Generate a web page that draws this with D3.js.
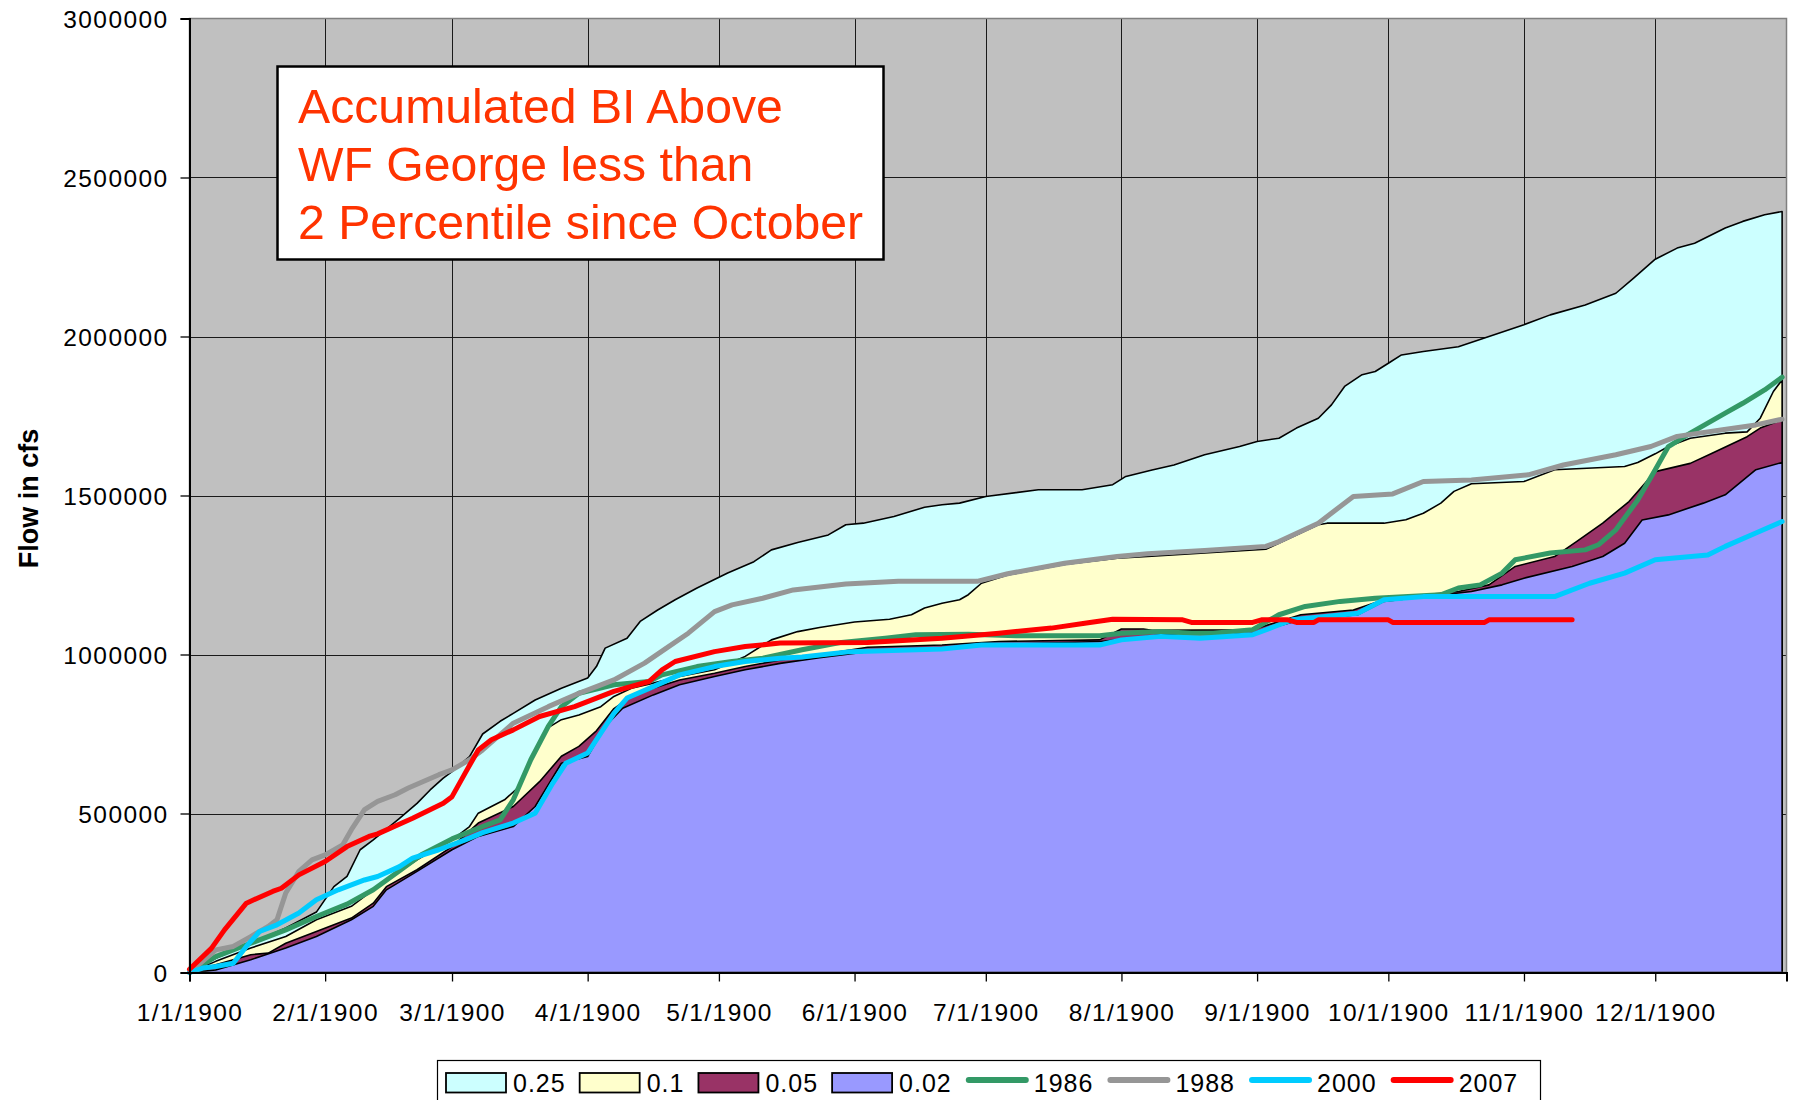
<!DOCTYPE html>
<html>
<head>
<meta charset="utf-8">
<script src="https://d3js.org/d3.v7.min.js"></script>
<style>
  body { margin: 0; background: #fff; }
  text { font-family: "Liberation Sans", Arial, sans-serif; }
</style>
</head>
<body>
<div class="chart"></div>
<script>
// values: [day of year, flow in thousand cfs]
const p25 = [[0,0],[6,45],[14,92],[22,140],[29,190],[33,270],[36,302],[39,386],[42,417],[48,485],[52,532],[55,574],[58,611],[60,632],[64,679],[67,750],[71,790],[74,815],[79,857],[85,894],[91,926],[93,962],[95,1020],[100,1051],[103,1104],[107,1140],[111,1172],[116,1209],[123,1256],[129,1292],[133,1329],[139,1352],[146,1376],[150,1408],[154,1413],[161,1434],[168,1463],[172,1471],[176,1476],[182,1497],[194,1518],[204,1518],[211,1534],[214,1560],[220,1580],[225,1596],[232,1628],[240,1654],[244,1670],[249,1680],[253,1712],[258,1743],[261,1785],[264,1843],[268,1880],[271,1890],[274,1916],[277,1942],[282,1953],[290,1968],[297,2000],[305,2037],[311,2068],[319,2099],[326,2136],[330,2183],[335,2243],[340,2278],[344,2293],[351,2341],[355,2362],[360,2383],[364,2393]];
const p10 = [[0,0],[6,35],[14,77],[22,113],[29,166],[37,208],[45,291],[52,354],[60,417],[64,459],[66,501],[72,543],[75,580],[78,669],[82,770],[85,795],[89,810],[94,836],[97,868],[101,894],[106,910],[112,931],[120,952],[127,994],[133,1046],[139,1072],[144,1085],[152,1102],[160,1111],[165,1125],[168,1146],[172,1161],[176,1172],[178,1188],[181,1224],[187,1250],[200,1283],[212,1303],[219,1308],[246,1331],[258,1408],[260,1413],[273,1413],[278,1424],[282,1444],[286,1476],[289,1513],[293,1537],[305,1544],[312,1581],[328,1591],[331,1604],[335,1631],[338,1654],[343,1680],[351,1696],[356,1700],[359,1743],[362,1827],[364,1864]];
const p05 = [[0,0],[6,24],[14,56],[18,61],[22,92],[29,129],[37,171],[42,218],[45,270],[52,323],[60,396],[66,470],[74,522],[80,600],[85,680],[89,711],[93,760],[97,830],[101,868],[106,894],[112,920],[120,941],[127,962],[135,983],[144,999],[155,1023],[172,1030],[185,1041],[208,1046],[213,1080],[218,1080],[220,1076],[243,1078],[254,1125],[266,1140],[274,1177],[290,1198],[297,1219],[303,1277],[312,1308],[317,1355],[323,1413],[329,1481],[335,1575],[343,1601],[348,1633],[356,1685],[359,1712],[364,1738]];
const p02 = [[0,0],[6,8],[14,40],[22,77],[29,113],[37,166],[42,208],[45,260],[52,318],[60,386],[66,428],[74,459],[79,522],[85,658],[91,679],[95,774],[99,831],[106,873],[112,905],[120,931],[127,952],[135,972],[144,990],[155,1009],[172,1017],[181,1030],[208,1041],[216,1051],[222,1062],[243,1067],[254,1109],[267,1125],[273,1167],[293,1198],[300,1219],[305,1240],[316,1277],[323,1308],[328,1350],[332,1423],[338,1439],[346,1476],[351,1502],[358,1581],[364,1604]];
const y1986 = [[0,0],[6,50],[14,92],[22,134],[29,176],[36,215],[42,260],[48,320],[53,370],[60,420],[67,459],[71,480],[74,543],[78,669],[82,774],[85,836],[89,878],[97,905],[105,915],[108,936],[116,962],[124,978],[131,988],[140,1015],[149,1038],[159,1051],[166,1062],[178,1064],[189,1059],[208,1059],[213,1067],[222,1072],[229,1067],[234,1067],[243,1078],[249,1125],[255,1151],[263,1167],[271,1177],[286,1188],[290,1209],[295,1219],[300,1256],[303,1298],[311,1319],[319,1329],[322,1345],[326,1392],[331,1486],[335,1581],[338,1654],[343,1696],[351,1759],[355,1790],[360,1832],[364,1872]];
const y1988 = [[0,0],[6,71],[10,82],[14,113],[18,145],[20,166],[22,250],[25,318],[28,354],[31,370],[35,401],[37,449],[40,512],[43,538],[47,559],[50,580],[57,622],[60,637],[64,669],[67,700],[74,784],[82,836],[89,878],[97,920],[104,973],[109,1020],[114,1067],[120,1135],[124,1156],[131,1177],[138,1203],[150,1222],[162,1230],[180,1230],[187,1254],[200,1287],[212,1308],[219,1317],[232,1327],[246,1340],[249,1355],[258,1413],[266,1497],[275,1505],[282,1544],[293,1549],[306,1565],[314,1596],[326,1628],[334,1654],[340,1686],[350,1706],[358,1722],[364,1740]];
const y2000 = [[0,0],[3,14],[6,19],[10,29],[13,82],[16,129],[20,150],[25,187],[29,229],[34,260],[40,291],[43,302],[48,333],[51,360],[57,386],[63,417],[67,440],[74,470],[79,501],[83,595],[86,658],[91,690],[94,753],[97,815],[100,863],[106,899],[112,936],[120,962],[127,978],[135,988],[140,992],[151,1009],[172,1017],[181,1030],[208,1030],[213,1046],[222,1057],[231,1051],[243,1062],[248,1088],[252,1109],[259,1119],[267,1130],[273,1172],[282,1182],[312,1182],[320,1224],[328,1256],[335,1298],[347,1313],[351,1340],[358,1382],[364,1418]];
const y2007 = [[0,10],[5,76],[8,134],[13,218],[19,255],[21,265],[25,307],[31,349],[36,396],[41,428],[43,436],[51,485],[58,532],[60,553],[63,627],[66,700],[69,732],[74,763],[80,805],[88,836],[97,884],[105,915],[108,952],[111,978],[120,1009],[127,1025],[135,1036],[155,1038],[172,1051],[185,1067],[197,1083],[205,1099],[211,1111],[227,1109],[229,1101],[243,1101],[245,1109],[251,1109],[253,1101],[257,1101],[258,1109],[274,1109],[275,1101],[296,1101],[297,1109],[316,1109]];

const monthDays = [0, 31, 60, 91, 121, 152, 182, 213, 244, 274, 305, 335];
const monthLabels = ["1/1/1900", "2/1/1900", "3/1/1900", "4/1/1900", "5/1/1900", "6/1/1900",
  "7/1/1900", "8/1/1900", "9/1/1900", "10/1/1900", "11/1/1900", "12/1/1900"];
const flowTicks = [0, 500000, 1000000, 1500000, 2000000, 2500000, 3000000];

const areaSeries = [
  { name: "0.25", data: p25, color: "#ccffff" },
  { name: "0.1", data: p10, color: "#ffffcc" },
  { name: "0.05", data: p05, color: "#993366" },
  { name: "0.02", data: p02, color: "#9999ff" },
];
const lineSeries = [
  { name: "1986", data: y1986, color: "#339966" },
  { name: "1988", data: y1988, color: "#969696" },
  { name: "2000", data: y2000, color: "#00ccff" },
  { name: "2007", data: y2007, color: "#ff0000" },
];

const WIDTH = 1797;
const HEIGHT = 1100;
const LEFT = 189.5, RIGHT = 1786.5, TOP = 18.5, BOTTOM = 972.5;

const svg = d3.create("svg").attr("width", WIDTH).attr("height", HEIGHT);
// attach early so text can be measured for the legend
document.querySelector(".chart").append(svg.node());
svg.append("rect").attr("width", WIDTH).attr("height", HEIGHT).style("fill", "#fff");

const x = d3.scaleLinear().domain([0, 365]).range([LEFT, RIGHT]);
const y = d3.scaleLinear().domain([0, 3000000]).range([BOTTOM, TOP]);

// plot background
svg.append("rect")
  .attr("x", LEFT).attr("y", TOP)
  .attr("width", RIGHT - LEFT).attr("height", BOTTOM - TOP)
  .style("fill", "#c0c0c0");

// grid
const grid = svg.append("g").style("stroke", "#1a1a1a").style("stroke-width", 1);
grid.selectAll(".h").data(flowTicks.slice(1, -1)).join("line")
  .attr("x1", LEFT).attr("x2", RIGHT)
  .attr("y1", d => Math.round(y(d)) + 0.5).attr("y2", d => Math.round(y(d)) + 0.5);
grid.selectAll(".v").data(monthDays.slice(1)).join("line")
  .attr("y1", TOP).attr("y2", BOTTOM)
  .attr("x1", d => Math.round(x(d)) + 0.5).attr("x2", d => Math.round(x(d)) + 0.5);

// percentile areas
const area = d3.area()
  .x(d => x(d[0]))
  .y0(y(0))
  .y1(d => y(d[1] * 1000));

svg.append("g")
  .selectAll("path")
  .data(areaSeries)
  .join("path")
  .attr("d", s => area(s.data) + "Z")
  .style("fill", s => s.color)
  .style("stroke", "#000")
  .style("stroke-width", 1.6)
  .style("stroke-linejoin", "round");

// year lines
const line = d3.line()
  .x(d => x(d[0]))
  .y(d => y(d[1] * 1000));

svg.append("g")
  .selectAll("path")
  .data(lineSeries)
  .join("path")
  .attr("d", s => line(s.data))
  .style("fill", "none")
  .style("stroke", s => s.color)
  .style("stroke-width", 5)
  .style("stroke-linejoin", "round")
  .style("stroke-linecap", "round");

// plot frame
svg.append("rect")
  .attr("x", LEFT).attr("y", TOP)
  .attr("width", RIGHT - LEFT).attr("height", BOTTOM - TOP)
  .style("fill", "none").style("stroke", "#808080").style("stroke-width", 1.5);

// axes
const yAxis = d3.axisLeft(y).tickValues(flowTicks).tickFormat(d3.format("d"))
  .tickSize(9).tickPadding(12);
const yg = svg.append("g").attr("transform", `translate(${LEFT},0)`).call(yAxis);

const xAxis = d3.axisBottom(x).tickValues(monthDays)
  .tickFormat((d, i) => monthLabels[i]).tickSize(9).tickPadding(22);
const xg = svg.append("g").attr("transform", `translate(0,${BOTTOM})`).call(xAxis);

[yg, xg].forEach(g => {
  g.select(".domain").style("stroke", "#000").style("stroke-width", 2);
  g.selectAll(".tick line").style("stroke", "#000").style("stroke-width", 1.3);
  g.selectAll(".tick text")
    .style("font-family", '"Liberation Sans", Arial, sans-serif')
    .style("font-size", "24.5px")
    .style("letter-spacing", "1.4px")
    .style("fill", "#000");
});
yg.selectAll(".tick text").attr("dy", "0.36em");

svg.append("text")
  .attr("transform", `translate(38,${(TOP + BOTTOM) / 2 + 3}) rotate(-90)`)
  .attr("text-anchor", "middle")
  .style("font-size", "27px")
  .style("font-weight", "bold")
  .text("Flow in cfs");

// annotation box
const note = svg.append("g");
note.append("rect")
  .attr("x", 277.5).attr("y", 66.5).attr("width", 606).attr("height", 193)
  .style("fill", "#fff").style("stroke", "#000").style("stroke-width", 2.5);
["Accumulated BI Above", "WF George less than", "2 Percentile since October"]
  .forEach((t, i) => {
    note.append("text")
      .attr("x", 298).attr("y", 123 + i * 58)
      .style("font-size", "48.2px")
      .style("fill", "#ff3300")
      .text(t);
  });

// legend
const legend = svg.append("g");
legend.append("rect")
  .attr("x", 437.5).attr("y", 1060.5).attr("width", 1103).attr("height", 60)
  .style("fill", "#fff").style("stroke", "#000").style("stroke-width", 1.2);

let lx = 446;
const legendItems = areaSeries.map(s => ({ ...s, kind: "area" }))
  .concat(lineSeries.map(s => ({ ...s, kind: "line" })));
legendItems.forEach(item => {
  if (item.kind === "area") {
    legend.append("rect")
      .attr("x", lx).attr("y", 1073).attr("width", 60).attr("height", 19.5)
      .style("fill", item.color).style("stroke", "#000").style("stroke-width", 1.8);
    lx += 67;
  } else {
    legend.append("line")
      .attr("x1", lx + 3).attr("x2", lx + 60).attr("y1", 1080).attr("y2", 1080)
      .style("stroke", item.color).style("stroke-width", 6).style("stroke-linecap", "round");
    lx += 68;
  }
  const label = legend.append("text")
    .attr("x", lx).attr("y", 1091.5)
    .style("font-size", "25px")
    .style("letter-spacing", "1px")
    .text(item.name);
  lx += label.node().getComputedTextLength() + 14;
});
</script>
</body>
</html>
